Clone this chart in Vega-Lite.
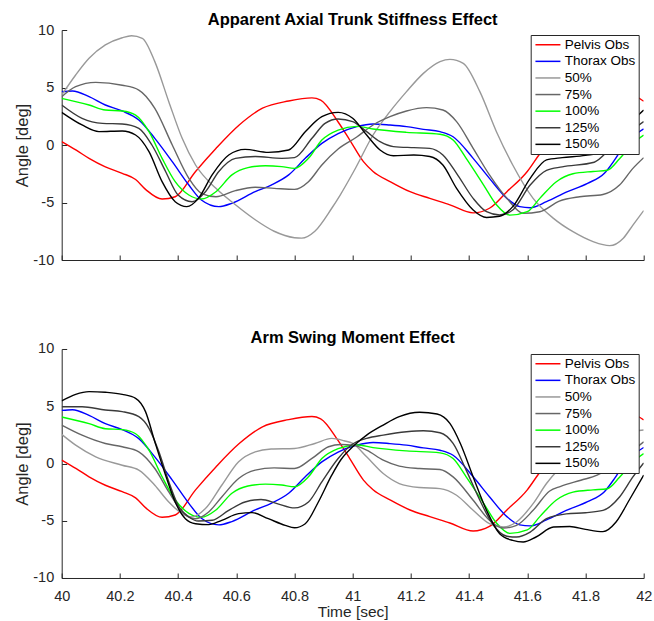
{
  "$schema": "https://vega.github.io/schema/vega-lite/v6.json",
  "padding": {"left": 13.7, "top": 11, "right": 0, "bottom": 0},
  "spacing": 63,
  "datasets": {
    "curves": [
      {"p":"both","s":"Pelvis Obs","t":40.0,"v":0.3},
      {"p":"both","s":"Pelvis Obs","t":40.05,"v":-0.45},
      {"p":"both","s":"Pelvis Obs","t":40.094,"v":-1.16},
      {"p":"both","s":"Pelvis Obs","t":40.15,"v":-1.9},
      {"p":"both","s":"Pelvis Obs","t":40.208,"v":-2.46},
      {"p":"both","s":"Pelvis Obs","t":40.254,"v":-3.0},
      {"p":"both","s":"Pelvis Obs","t":40.29,"v":-3.9},
      {"p":"both","s":"Pelvis Obs","t":40.345,"v":-4.7},
      {"p":"both","s":"Pelvis Obs","t":40.39,"v":-4.5},
      {"p":"both","s":"Pelvis Obs","t":40.46,"v":-2.3},
      {"p":"both","s":"Pelvis Obs","t":40.53,"v":-0.3},
      {"p":"both","s":"Pelvis Obs","t":40.61,"v":1.74},
      {"p":"both","s":"Pelvis Obs","t":40.69,"v":3.2},
      {"p":"both","s":"Pelvis Obs","t":40.78,"v":3.83},
      {"p":"both","s":"Pelvis Obs","t":40.86,"v":4.1},
      {"p":"both","s":"Pelvis Obs","t":40.89,"v":3.9},
      {"p":"both","s":"Pelvis Obs","t":40.95,"v":2.0},
      {"p":"both","s":"Pelvis Obs","t":40.99,"v":0.43},
      {"p":"both","s":"Pelvis Obs","t":41.037,"v":-1.45},
      {"p":"both","s":"Pelvis Obs","t":41.07,"v":-2.3},
      {"p":"both","s":"Pelvis Obs","t":41.13,"v":-3.2},
      {"p":"both","s":"Pelvis Obs","t":41.197,"v":-4.06},
      {"p":"both","s":"Pelvis Obs","t":41.265,"v":-4.64},
      {"p":"both","s":"Pelvis Obs","t":41.334,"v":-5.2},
      {"p":"both","s":"Pelvis Obs","t":41.414,"v":-5.9},
      {"p":"both","s":"Pelvis Obs","t":41.47,"v":-5.5},
      {"p":"both","s":"Pelvis Obs","t":41.53,"v":-4.06},
      {"p":"both","s":"Pelvis Obs","t":41.6,"v":-2.3},
      {"p":"both","s":"Pelvis Obs","t":41.64,"v":-0.87},
      {"p":"both","s":"Pelvis Obs","t":41.7,"v":1.0},
      {"p":"both","s":"Pelvis Obs","t":41.8,"v":3.0},
      {"p":"both","s":"Pelvis Obs","t":41.9,"v":4.2},
      {"p":"both","s":"Pelvis Obs","t":41.95,"v":4.4},
      {"p":"both","s":"Pelvis Obs","t":42.0,"v":3.8},

      {"p":"both","s":"Thorax Obs","t":40.0,"v":4.64},
      {"p":"both","s":"Thorax Obs","t":40.037,"v":4.7},
      {"p":"both","s":"Thorax Obs","t":40.094,"v":4.2},
      {"p":"both","s":"Thorax Obs","t":40.15,"v":3.48},
      {"p":"both","s":"Thorax Obs","t":40.208,"v":2.96},
      {"p":"both","s":"Thorax Obs","t":40.265,"v":2.17},
      {"p":"both","s":"Thorax Obs","t":40.32,"v":0.58},
      {"p":"both","s":"Thorax Obs","t":40.38,"v":-1.45},
      {"p":"both","s":"Thorax Obs","t":40.437,"v":-3.48},
      {"p":"both","s":"Thorax Obs","t":40.48,"v":-4.78},
      {"p":"both","s":"Thorax Obs","t":40.54,"v":-5.36},
      {"p":"both","s":"Thorax Obs","t":40.585,"v":-5.07},
      {"p":"both","s":"Thorax Obs","t":40.665,"v":-4.06},
      {"p":"both","s":"Thorax Obs","t":40.72,"v":-3.48},
      {"p":"both","s":"Thorax Obs","t":40.78,"v":-2.6},
      {"p":"both","s":"Thorax Obs","t":40.837,"v":-1.16},
      {"p":"both","s":"Thorax Obs","t":40.894,"v":0.14},
      {"p":"both","s":"Thorax Obs","t":40.95,"v":1.0},
      {"p":"both","s":"Thorax Obs","t":41.014,"v":1.6},
      {"p":"both","s":"Thorax Obs","t":41.07,"v":1.83},
      {"p":"both","s":"Thorax Obs","t":41.128,"v":1.74},
      {"p":"both","s":"Thorax Obs","t":41.185,"v":1.6},
      {"p":"both","s":"Thorax Obs","t":41.243,"v":1.36},
      {"p":"both","s":"Thorax Obs","t":41.3,"v":1.16},
      {"p":"both","s":"Thorax Obs","t":41.345,"v":0.72},
      {"p":"both","s":"Thorax Obs","t":41.414,"v":-1.16},
      {"p":"both","s":"Thorax Obs","t":41.47,"v":-2.9},
      {"p":"both","s":"Thorax Obs","t":41.53,"v":-4.64},
      {"p":"both","s":"Thorax Obs","t":41.574,"v":-5.36},
      {"p":"both","s":"Thorax Obs","t":41.61,"v":-5.45},
      {"p":"both","s":"Thorax Obs","t":41.666,"v":-4.93},
      {"p":"both","s":"Thorax Obs","t":41.734,"v":-4.1},
      {"p":"both","s":"Thorax Obs","t":41.807,"v":-3.33},
      {"p":"both","s":"Thorax Obs","t":41.865,"v":-2.46},
      {"p":"both","s":"Thorax Obs","t":41.9,"v":-1.3},
      {"p":"both","s":"Thorax Obs","t":41.93,"v":-0.14},
      {"p":"both","s":"Thorax Obs","t":41.963,"v":0.72},
      {"p":"both","s":"Thorax Obs","t":42.0,"v":1.4},

      {"p":"top","s":"50%","t":40.0,"v":4.35},
      {"p":"top","s":"50%","t":40.048,"v":6.09},
      {"p":"top","s":"50%","t":40.094,"v":7.54},
      {"p":"top","s":"50%","t":40.15,"v":8.7},
      {"p":"top","s":"50%","t":40.208,"v":9.33},
      {"p":"top","s":"50%","t":40.24,"v":9.5},
      {"p":"top","s":"50%","t":40.277,"v":9.28},
      {"p":"top","s":"50%","t":40.32,"v":7.25},
      {"p":"top","s":"50%","t":40.368,"v":3.77},
      {"p":"top","s":"50%","t":40.414,"v":0.58},
      {"p":"top","s":"50%","t":40.46,"v":-1.74},
      {"p":"top","s":"50%","t":40.53,"v":-3.77},
      {"p":"top","s":"50%","t":40.597,"v":-5.2},
      {"p":"top","s":"50%","t":40.665,"v":-6.5},
      {"p":"top","s":"50%","t":40.73,"v":-7.5},
      {"p":"top","s":"50%","t":40.8,"v":-8.06},
      {"p":"top","s":"50%","t":40.825,"v":-8.1},
      {"p":"top","s":"50%","t":40.87,"v":-7.5},
      {"p":"top","s":"50%","t":40.928,"v":-5.5},
      {"p":"top","s":"50%","t":40.957,"v":-4.35},
      {"p":"top","s":"50%","t":41.01,"v":-2.0},
      {"p":"top","s":"50%","t":41.07,"v":0.87},
      {"p":"top","s":"50%","t":41.128,"v":2.9},
      {"p":"top","s":"50%","t":41.185,"v":4.64},
      {"p":"top","s":"50%","t":41.243,"v":6.23},
      {"p":"top","s":"50%","t":41.3,"v":7.25},
      {"p":"top","s":"50%","t":41.334,"v":7.45},
      {"p":"top","s":"50%","t":41.38,"v":7.1},
      {"p":"top","s":"50%","t":41.437,"v":4.64},
      {"p":"top","s":"50%","t":41.494,"v":1.16},
      {"p":"top","s":"50%","t":41.55,"v":-1.74},
      {"p":"top","s":"50%","t":41.62,"v":-4.64},
      {"p":"top","s":"50%","t":41.69,"v":-6.38},
      {"p":"top","s":"50%","t":41.757,"v":-7.54},
      {"p":"top","s":"50%","t":41.826,"v":-8.4},
      {"p":"top","s":"50%","t":41.883,"v":-8.75},
      {"p":"top","s":"50%","t":41.93,"v":-8.1},
      {"p":"top","s":"50%","t":41.963,"v":-6.96},
      {"p":"top","s":"50%","t":42.0,"v":-5.7},

      {"p":"top","s":"75%","t":40.0,"v":4.2},
      {"p":"top","s":"75%","t":40.048,"v":5.07},
      {"p":"top","s":"75%","t":40.117,"v":5.45},
      {"p":"top","s":"75%","t":40.208,"v":5.2},
      {"p":"top","s":"75%","t":40.265,"v":4.78},
      {"p":"top","s":"75%","t":40.32,"v":3.19},
      {"p":"top","s":"75%","t":40.38,"v":0.0},
      {"p":"top","s":"75%","t":40.437,"v":-2.9},
      {"p":"top","s":"75%","t":40.48,"v":-4.2},
      {"p":"top","s":"75%","t":40.53,"v":-4.5},
      {"p":"top","s":"75%","t":40.597,"v":-3.97},
      {"p":"top","s":"75%","t":40.665,"v":-3.68},
      {"p":"top","s":"75%","t":40.73,"v":-3.77},
      {"p":"top","s":"75%","t":40.8,"v":-3.86},
      {"p":"top","s":"75%","t":40.848,"v":-3.19},
      {"p":"top","s":"75%","t":40.894,"v":-1.74},
      {"p":"top","s":"75%","t":40.95,"v":-0.35},
      {"p":"top","s":"75%","t":41.014,"v":0.7},
      {"p":"top","s":"75%","t":41.07,"v":1.74},
      {"p":"top","s":"75%","t":41.128,"v":2.46},
      {"p":"top","s":"75%","t":41.185,"v":2.96},
      {"p":"top","s":"75%","t":41.254,"v":3.25},
      {"p":"top","s":"75%","t":41.31,"v":3.04},
      {"p":"top","s":"75%","t":41.357,"v":2.03},
      {"p":"top","s":"75%","t":41.414,"v":-0.29},
      {"p":"top","s":"75%","t":41.47,"v":-2.6},
      {"p":"top","s":"75%","t":41.53,"v":-4.64},
      {"p":"top","s":"75%","t":41.586,"v":-5.94},
      {"p":"top","s":"75%","t":41.643,"v":-5.8},
      {"p":"top","s":"75%","t":41.71,"v":-4.88},
      {"p":"top","s":"75%","t":41.78,"v":-4.5},
      {"p":"top","s":"75%","t":41.86,"v":-4.3},
      {"p":"top","s":"75%","t":41.917,"v":-3.48},
      {"p":"top","s":"75%","t":41.963,"v":-2.03},
      {"p":"top","s":"75%","t":42.0,"v":-1.1},

      {"p":"both","s":"100%","t":40.0,"v":4.06},
      {"p":"both","s":"100%","t":40.094,"v":3.48},
      {"p":"both","s":"100%","t":40.15,"v":3.04},
      {"p":"both","s":"100%","t":40.208,"v":2.96},
      {"p":"both","s":"100%","t":40.254,"v":2.6},
      {"p":"both","s":"100%","t":40.3,"v":1.16},
      {"p":"both","s":"100%","t":40.345,"v":-1.16},
      {"p":"both","s":"100%","t":40.39,"v":-3.19},
      {"p":"both","s":"100%","t":40.437,"v":-4.35},
      {"p":"both","s":"100%","t":40.48,"v":-4.7},
      {"p":"both","s":"100%","t":40.53,"v":-4.06},
      {"p":"both","s":"100%","t":40.585,"v":-2.6},
      {"p":"both","s":"100%","t":40.64,"v":-1.97},
      {"p":"both","s":"100%","t":40.7,"v":-1.8},
      {"p":"both","s":"100%","t":40.756,"v":-1.88},
      {"p":"both","s":"100%","t":40.8,"v":-2.03},
      {"p":"both","s":"100%","t":40.848,"v":-1.16},
      {"p":"both","s":"100%","t":40.894,"v":0.43},
      {"p":"both","s":"100%","t":40.95,"v":1.3},
      {"p":"both","s":"100%","t":41.014,"v":1.62},
      {"p":"both","s":"100%","t":41.07,"v":1.39},
      {"p":"both","s":"100%","t":41.185,"v":1.1},
      {"p":"both","s":"100%","t":41.3,"v":0.93},
      {"p":"both","s":"100%","t":41.345,"v":0.43},
      {"p":"both","s":"100%","t":41.39,"v":-1.16},
      {"p":"both","s":"100%","t":41.45,"v":-3.48},
      {"p":"both","s":"100%","t":41.494,"v":-5.2},
      {"p":"both","s":"100%","t":41.54,"v":-6.1},
      {"p":"both","s":"100%","t":41.6,"v":-5.8},
      {"p":"both","s":"100%","t":41.643,"v":-4.64},
      {"p":"both","s":"100%","t":41.7,"v":-3.19},
      {"p":"both","s":"100%","t":41.757,"v":-2.5},
      {"p":"both","s":"100%","t":41.826,"v":-2.3},
      {"p":"both","s":"100%","t":41.875,"v":-2.2},
      {"p":"both","s":"100%","t":41.917,"v":-1.2},
      {"p":"both","s":"100%","t":41.963,"v":0.14},
      {"p":"both","s":"100%","t":42.0,"v":0.87},

      {"p":"top","s":"125%","t":40.0,"v":3.48},
      {"p":"top","s":"125%","t":40.07,"v":2.32},
      {"p":"top","s":"125%","t":40.14,"v":1.88},
      {"p":"top","s":"125%","t":40.208,"v":1.83},
      {"p":"top","s":"125%","t":40.265,"v":1.45},
      {"p":"top","s":"125%","t":40.31,"v":0.0},
      {"p":"top","s":"125%","t":40.357,"v":-2.3},
      {"p":"top","s":"125%","t":40.4,"v":-4.35},
      {"p":"top","s":"125%","t":40.448,"v":-4.93},
      {"p":"top","s":"125%","t":40.494,"v":-4.06},
      {"p":"top","s":"125%","t":40.54,"v":-2.3},
      {"p":"top","s":"125%","t":40.597,"v":-1.16},
      {"p":"top","s":"125%","t":40.665,"v":-1.0},
      {"p":"top","s":"125%","t":40.756,"v":-1.16},
      {"p":"top","s":"125%","t":40.8,"v":-1.1},
      {"p":"top","s":"125%","t":40.86,"v":0.58},
      {"p":"top","s":"125%","t":40.905,"v":1.88},
      {"p":"top","s":"125%","t":40.95,"v":2.26},
      {"p":"top","s":"125%","t":41.0,"v":2.03},
      {"p":"top","s":"125%","t":41.048,"v":1.16},
      {"p":"top","s":"125%","t":41.094,"v":0.29},
      {"p":"top","s":"125%","t":41.14,"v":-0.14},
      {"p":"top","s":"125%","t":41.21,"v":-0.23},
      {"p":"top","s":"125%","t":41.265,"v":-0.29},
      {"p":"top","s":"125%","t":41.31,"v":-0.87},
      {"p":"top","s":"125%","t":41.357,"v":-2.46},
      {"p":"top","s":"125%","t":41.414,"v":-4.64},
      {"p":"top","s":"125%","t":41.46,"v":-5.8},
      {"p":"top","s":"125%","t":41.505,"v":-6.09},
      {"p":"top","s":"125%","t":41.55,"v":-5.65},
      {"p":"top","s":"125%","t":41.61,"v":-3.48},
      {"p":"top","s":"125%","t":41.666,"v":-2.2},
      {"p":"top","s":"125%","t":41.72,"v":-1.9},
      {"p":"top","s":"125%","t":41.83,"v":-1.5},
      {"p":"top","s":"125%","t":41.886,"v":-0.3},
      {"p":"top","s":"125%","t":41.94,"v":0.9},
      {"p":"top","s":"125%","t":42.0,"v":2.03},

      {"p":"top","s":"150%","t":40.0,"v":2.84},
      {"p":"top","s":"150%","t":40.07,"v":1.74},
      {"p":"top","s":"150%","t":40.128,"v":1.16},
      {"p":"top","s":"150%","t":40.208,"v":1.22},
      {"p":"top","s":"150%","t":40.254,"v":0.87},
      {"p":"top","s":"150%","t":40.3,"v":-0.58},
      {"p":"top","s":"150%","t":40.345,"v":-3.19},
      {"p":"top","s":"150%","t":40.39,"v":-4.93},
      {"p":"top","s":"150%","t":40.43,"v":-5.36},
      {"p":"top","s":"150%","t":40.47,"v":-4.64},
      {"p":"top","s":"150%","t":40.517,"v":-2.6},
      {"p":"top","s":"150%","t":40.574,"v":-0.87},
      {"p":"top","s":"150%","t":40.63,"v":-0.38},
      {"p":"top","s":"150%","t":40.71,"v":-0.64},
      {"p":"top","s":"150%","t":40.78,"v":-0.43},
      {"p":"top","s":"150%","t":40.837,"v":1.16},
      {"p":"top","s":"150%","t":40.894,"v":2.46},
      {"p":"top","s":"150%","t":40.95,"v":2.84},
      {"p":"top","s":"150%","t":41.0,"v":2.32},
      {"p":"top","s":"150%","t":41.048,"v":0.87},
      {"p":"top","s":"150%","t":41.094,"v":-0.43},
      {"p":"top","s":"150%","t":41.14,"v":-0.93},
      {"p":"top","s":"150%","t":41.21,"v":-0.87},
      {"p":"top","s":"150%","t":41.265,"v":-1.0},
      {"p":"top","s":"150%","t":41.31,"v":-1.74},
      {"p":"top","s":"150%","t":41.357,"v":-3.77},
      {"p":"top","s":"150%","t":41.414,"v":-5.65},
      {"p":"top","s":"150%","t":41.46,"v":-6.3},
      {"p":"top","s":"150%","t":41.505,"v":-6.2},
      {"p":"top","s":"150%","t":41.55,"v":-5.36},
      {"p":"top","s":"150%","t":41.61,"v":-2.9},
      {"p":"top","s":"150%","t":41.666,"v":-1.3},
      {"p":"top","s":"150%","t":41.72,"v":-1.1},
      {"p":"top","s":"150%","t":41.8,"v":-0.9},
      {"p":"top","s":"150%","t":41.87,"v":-0.5},
      {"p":"top","s":"150%","t":41.93,"v":1.3},
      {"p":"top","s":"150%","t":42.0,"v":3.04},

      {"p":"bot","s":"50%","t":40.0,"v":2.54},
      {"p":"bot","s":"50%","t":40.048,"v":1.6},
      {"p":"bot","s":"50%","t":40.117,"v":0.58},
      {"p":"bot","s":"50%","t":40.208,"v":-0.15},
      {"p":"bot","s":"50%","t":40.265,"v":-0.58},
      {"p":"bot","s":"50%","t":40.32,"v":-1.9},
      {"p":"bot","s":"50%","t":40.368,"v":-3.36},
      {"p":"bot","s":"50%","t":40.414,"v":-4.38},
      {"p":"bot","s":"50%","t":40.448,"v":-4.67},
      {"p":"bot","s":"50%","t":40.494,"v":-3.94},
      {"p":"bot","s":"50%","t":40.55,"v":-1.9},
      {"p":"bot","s":"50%","t":40.608,"v":0.15},
      {"p":"bot","s":"50%","t":40.665,"v":1.02},
      {"p":"bot","s":"50%","t":40.72,"v":1.26},
      {"p":"bot","s":"50%","t":40.8,"v":1.31},
      {"p":"bot","s":"50%","t":40.87,"v":1.75},
      {"p":"bot","s":"50%","t":40.928,"v":2.19},
      {"p":"bot","s":"50%","t":40.97,"v":1.99},
      {"p":"bot","s":"50%","t":41.0,"v":1.75},
      {"p":"bot","s":"50%","t":41.048,"v":0.58},
      {"p":"bot","s":"50%","t":41.105,"v":-0.88},
      {"p":"bot","s":"50%","t":41.16,"v":-1.75},
      {"p":"bot","s":"50%","t":41.23,"v":-2.1},
      {"p":"bot","s":"50%","t":41.3,"v":-2.19},
      {"p":"bot","s":"50%","t":41.357,"v":-2.77},
      {"p":"bot","s":"50%","t":41.414,"v":-4.09},
      {"p":"bot","s":"50%","t":41.47,"v":-5.26},
      {"p":"bot","s":"50%","t":41.517,"v":-5.55},
      {"p":"bot","s":"50%","t":41.563,"v":-5.11},
      {"p":"bot","s":"50%","t":41.62,"v":-3.5},
      {"p":"bot","s":"50%","t":41.666,"v":-1.75},
      {"p":"bot","s":"50%","t":41.71,"v":-0.44},
      {"p":"bot","s":"50%","t":41.8,"v":1.5},
      {"p":"bot","s":"50%","t":41.9,"v":2.5},
      {"p":"bot","s":"50%","t":42.0,"v":2.92},

      {"p":"bot","s":"75%","t":40.0,"v":3.36},
      {"p":"bot","s":"75%","t":40.07,"v":2.48},
      {"p":"bot","s":"75%","t":40.15,"v":1.75},
      {"p":"bot","s":"75%","t":40.208,"v":1.46},
      {"p":"bot","s":"75%","t":40.265,"v":1.02},
      {"p":"bot","s":"75%","t":40.32,"v":-0.44},
      {"p":"bot","s":"75%","t":40.368,"v":-2.48},
      {"p":"bot","s":"75%","t":40.414,"v":-4.23},
      {"p":"bot","s":"75%","t":40.46,"v":-4.82},
      {"p":"bot","s":"75%","t":40.505,"v":-4.23},
      {"p":"bot","s":"75%","t":40.55,"v":-2.92},
      {"p":"bot","s":"75%","t":40.608,"v":-1.31},
      {"p":"bot","s":"75%","t":40.665,"v":-0.58},
      {"p":"bot","s":"75%","t":40.73,"v":-0.38},
      {"p":"bot","s":"75%","t":40.8,"v":-0.44},
      {"p":"bot","s":"75%","t":40.86,"v":0.44},
      {"p":"bot","s":"75%","t":40.917,"v":1.46},
      {"p":"bot","s":"75%","t":40.96,"v":1.66},
      {"p":"bot","s":"75%","t":41.0,"v":1.6},
      {"p":"bot","s":"75%","t":41.048,"v":1.17},
      {"p":"bot","s":"75%","t":41.105,"v":0.29},
      {"p":"bot","s":"75%","t":41.16,"v":-0.23},
      {"p":"bot","s":"75%","t":41.23,"v":-0.44},
      {"p":"bot","s":"75%","t":41.3,"v":-0.53},
      {"p":"bot","s":"75%","t":41.345,"v":-1.17},
      {"p":"bot","s":"75%","t":41.414,"v":-3.21},
      {"p":"bot","s":"75%","t":41.47,"v":-4.96},
      {"p":"bot","s":"75%","t":41.517,"v":-5.64},
      {"p":"bot","s":"75%","t":41.563,"v":-5.4},
      {"p":"bot","s":"75%","t":41.62,"v":-4.09},
      {"p":"bot","s":"75%","t":41.677,"v":-2.4},
      {"p":"bot","s":"75%","t":41.715,"v":-2.0},
      {"p":"bot","s":"75%","t":41.784,"v":-1.46},
      {"p":"bot","s":"75%","t":41.84,"v":-1.02},
      {"p":"bot","s":"75%","t":41.92,"v":0.3},
      {"p":"bot","s":"75%","t":42.0,"v":1.9},

      {"p":"bot","s":"125%","t":40.0,"v":4.96},
      {"p":"bot","s":"125%","t":40.07,"v":4.96},
      {"p":"bot","s":"125%","t":40.15,"v":4.67},
      {"p":"bot","s":"125%","t":40.208,"v":4.53},
      {"p":"bot","s":"125%","t":40.265,"v":4.09},
      {"p":"bot","s":"125%","t":40.3,"v":3.07},
      {"p":"bot","s":"125%","t":40.334,"v":1.02},
      {"p":"bot","s":"125%","t":40.368,"v":-1.6},
      {"p":"bot","s":"125%","t":40.4,"v":-3.65},
      {"p":"bot","s":"125%","t":40.437,"v":-4.67},
      {"p":"bot","s":"125%","t":40.47,"v":-5.02},
      {"p":"bot","s":"125%","t":40.517,"v":-4.96},
      {"p":"bot","s":"125%","t":40.574,"v":-4.09},
      {"p":"bot","s":"125%","t":40.63,"v":-3.36},
      {"p":"bot","s":"125%","t":40.685,"v":-3.15},
      {"p":"bot","s":"125%","t":40.74,"v":-3.5},
      {"p":"bot","s":"125%","t":40.8,"v":-3.88},
      {"p":"bot","s":"125%","t":40.848,"v":-3.36},
      {"p":"bot","s":"125%","t":40.894,"v":-1.6},
      {"p":"bot","s":"125%","t":40.95,"v":0.44},
      {"p":"bot","s":"125%","t":41.0,"v":1.7},
      {"p":"bot","s":"125%","t":41.048,"v":2.19},
      {"p":"bot","s":"125%","t":41.105,"v":2.48},
      {"p":"bot","s":"125%","t":41.185,"v":2.77},
      {"p":"bot","s":"125%","t":41.243,"v":2.86},
      {"p":"bot","s":"125%","t":41.3,"v":2.69},
      {"p":"bot","s":"125%","t":41.345,"v":1.75},
      {"p":"bot","s":"125%","t":41.39,"v":-0.58},
      {"p":"bot","s":"125%","t":41.437,"v":-3.21},
      {"p":"bot","s":"125%","t":41.48,"v":-5.26},
      {"p":"bot","s":"125%","t":41.53,"v":-6.36},
      {"p":"bot","s":"125%","t":41.563,"v":-6.42},
      {"p":"bot","s":"125%","t":41.61,"v":-5.99},
      {"p":"bot","s":"125%","t":41.666,"v":-4.82},
      {"p":"bot","s":"125%","t":41.734,"v":-4.4},
      {"p":"bot","s":"125%","t":41.8,"v":-4.3},
      {"p":"bot","s":"125%","t":41.86,"v":-4.1},
      {"p":"bot","s":"125%","t":41.917,"v":-2.92},
      {"p":"bot","s":"125%","t":41.963,"v":-1.17},
      {"p":"bot","s":"125%","t":42.0,"v":0.05},

      {"p":"bot","s":"150%","t":40.0,"v":5.46},
      {"p":"bot","s":"150%","t":40.048,"v":6.04},
      {"p":"bot","s":"150%","t":40.094,"v":6.28},
      {"p":"bot","s":"150%","t":40.15,"v":6.22},
      {"p":"bot","s":"150%","t":40.208,"v":6.04},
      {"p":"bot","s":"150%","t":40.254,"v":5.69},
      {"p":"bot","s":"150%","t":40.288,"v":4.53},
      {"p":"bot","s":"150%","t":40.32,"v":1.9},
      {"p":"bot","s":"150%","t":40.357,"v":-1.02},
      {"p":"bot","s":"150%","t":40.39,"v":-3.36},
      {"p":"bot","s":"150%","t":40.425,"v":-4.82},
      {"p":"bot","s":"150%","t":40.46,"v":-5.26},
      {"p":"bot","s":"150%","t":40.505,"v":-5.34},
      {"p":"bot","s":"150%","t":40.55,"v":-4.96},
      {"p":"bot","s":"150%","t":40.608,"v":-4.38},
      {"p":"bot","s":"150%","t":40.654,"v":-4.29},
      {"p":"bot","s":"150%","t":40.71,"v":-4.82},
      {"p":"bot","s":"150%","t":40.768,"v":-5.4},
      {"p":"bot","s":"150%","t":40.8,"v":-5.61},
      {"p":"bot","s":"150%","t":40.837,"v":-5.26},
      {"p":"bot","s":"150%","t":40.882,"v":-3.36},
      {"p":"bot","s":"150%","t":40.928,"v":-1.02},
      {"p":"bot","s":"150%","t":40.96,"v":0.35},
      {"p":"bot","s":"150%","t":41.0,"v":1.46},
      {"p":"bot","s":"150%","t":41.048,"v":2.48},
      {"p":"bot","s":"150%","t":41.105,"v":3.36},
      {"p":"bot","s":"150%","t":41.16,"v":4.09},
      {"p":"bot","s":"150%","t":41.23,"v":4.47},
      {"p":"bot","s":"150%","t":41.29,"v":4.32},
      {"p":"bot","s":"150%","t":41.334,"v":3.5},
      {"p":"bot","s":"150%","t":41.37,"v":1.75},
      {"p":"bot","s":"150%","t":41.414,"v":-1.17},
      {"p":"bot","s":"150%","t":41.46,"v":-4.09},
      {"p":"bot","s":"150%","t":41.505,"v":-6.13},
      {"p":"bot","s":"150%","t":41.55,"v":-6.72},
      {"p":"bot","s":"150%","t":41.586,"v":-6.86},
      {"p":"bot","s":"150%","t":41.63,"v":-6.42},
      {"p":"bot","s":"150%","t":41.69,"v":-5.55},
      {"p":"bot","s":"150%","t":41.746,"v":-5.5},
      {"p":"bot","s":"150%","t":41.8,"v":-5.75},
      {"p":"bot","s":"150%","t":41.86,"v":-5.95},
      {"p":"bot","s":"150%","t":41.905,"v":-5.11},
      {"p":"bot","s":"150%","t":41.95,"v":-3.21},
      {"p":"bot","s":"150%","t":42.0,"v":-1.02}
    ]
  },
  "resolve": {"scale": {"color": "shared"}, "legend": {"color": "independent"}},
  "vconcat": [
    {
      "title": "Apparent Axial Trunk Stiffness Effect",
      "width": 582,
      "height": 230,
      "data": {"name": "curves"},
      "transform": [{"filter": "datum.p == 'top' || datum.p == 'both'"}],
      "mark": {"type": "line", "strokeWidth": 1.4, "interpolate": "monotone", "clip": true},
      "encoding": {
        "x": {"field": "t", "type": "quantitative", "scale": {"domain": [40, 42], "nice": false},
              "axis": {"values": [40, 40.2, 40.4, 40.6, 40.8, 41, 41.2, 41.4, 41.6, 41.8, 42], "labels": false, "title": null}},
        "y": {"field": "v", "type": "quantitative", "scale": {"domain": [-10, 10], "nice": false},
              "axis": {"values": [-10, -5, 0, 5, 10], "title": "Angle [deg]", "labelExpr": "replace(datum.label, '\u2212', '-')"}},
        "color": {"field": "s", "type": "nominal",
                  "scale": {"domain": ["Pelvis Obs", "Thorax Obs", "50%", "75%", "100%", "125%", "150%"],
                            "range": ["#ff0000", "#0000ff", "#999999", "#666666", "#00ff00", "#3a3a3a", "#000000"]},
                  "legend": {"title": null}},
        "order": {"field": "t", "type": "quantitative"}
      }
    },
    {
      "title": "Arm Swing Moment Effect",
      "width": 582,
      "height": 229,
      "data": {"name": "curves"},
      "transform": [{"filter": "datum.p == 'bot' || datum.p == 'both'"}],
      "mark": {"type": "line", "strokeWidth": 1.4, "interpolate": "monotone", "clip": true},
      "encoding": {
        "x": {"field": "t", "type": "quantitative", "scale": {"domain": [40, 42], "nice": false},
              "axis": {"values": [40, 40.2, 40.4, 40.6, 40.8, 41, 41.2, 41.4, 41.6, 41.8, 42], "title": "Time [sec]", "format": "~g", "titleFontSize": 15.5}},
        "y": {"field": "v", "type": "quantitative", "scale": {"domain": [-10, 10], "nice": false},
              "axis": {"values": [-10, -5, 0, 5, 10], "title": "Angle [deg]", "labelExpr": "replace(datum.label, '\u2212', '-')"}},
        "color": {"field": "s", "type": "nominal",
                  "scale": {"domain": ["Pelvis Obs", "Thorax Obs", "50%", "75%", "100%", "125%", "150%"],
                            "range": ["#ff0000", "#0000ff", "#999999", "#666666", "#00ff00", "#3a3a3a", "#000000"]},
                  "legend": {"title": null}},
        "order": {"field": "t", "type": "quantitative"}
      }
    }
  ],
  "config": {
    "font": "Liberation Sans",
    "view": {"stroke": null},
    "axis": {
      "grid": false,
      "domainColor": "#262626", "tickColor": "#262626", "labelColor": "#262626", "titleColor": "#262626",
      "labelFont": "Liberation Sans", "titleFont": "Liberation Sans",
      "labelFontSize": 14.5, "titleFontSize": 16.5, "titleFontWeight": "normal",
      "tickSize": -5, "domainWidth": 1, "tickWidth": 1
    },
    "axisX": {"labelPadding": 17, "titlePadding": 1, "labelFlush": false},
    "axisY": {"labelPadding": 13, "titlePadding": 2.3, "labelFlush": false},
    "title": {"fontSize": 16.5, "fontWeight": "bold", "color": "#000000", "font": "Liberation Sans", "baseline": "alphabetic", "offset": -6},
    "legend": {
      "orient": "top-right", "offset": 5,
      "strokeColor": "#262626", "fillColor": "#ffffff", "padding": 3, "cornerRadius": 0,
      "symbolType": "M-2.5,0H2.5", "symbolSize": 100, "symbolStrokeWidth": 1.5, "symbolOffset": 7.5,
      "labelFontSize": 13.5, "labelColor": "#000000", "labelFont": "Liberation Sans",
      "rowPadding": 1.6, "labelOffset": 10
    }
  }
}
